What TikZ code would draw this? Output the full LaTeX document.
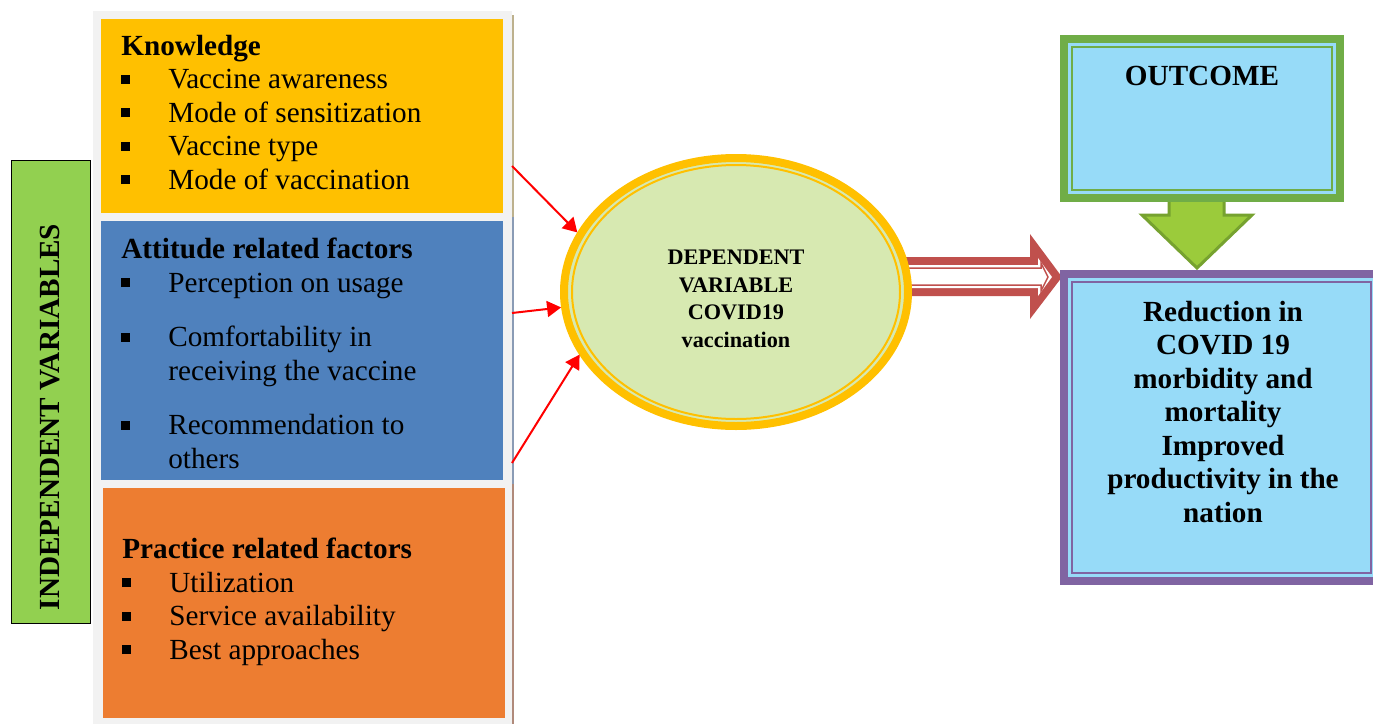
\documentclass[tikz,border=0pt]{standalone}
\usepackage{fontspec}
\setmainfont{Liberation Serif}
\usepackage{tikz}
\usetikzlibrary{shapes.geometric,arrows.meta,positioning,calc}

\definecolor{knowyellow}{HTML}{FFC000}
\definecolor{attblue}{HTML}{4F81BD}
\definecolor{pracorange}{HTML}{ED7D31}
\definecolor{indepgreen}{HTML}{92D050}
\definecolor{panelgray}{HTML}{F2F2F2}
\definecolor{depfill}{HTML}{D7E9B1}
\definecolor{blockred}{HTML}{C0504D}
\definecolor{skyblue}{HTML}{97DBF8}
\definecolor{outgreen}{HTML}{70AD47}
\definecolor{redpurple}{HTML}{8064A2}
\definecolor{arrowgreen}{HTML}{9BCB3B}
\definecolor{arrowgreendark}{HTML}{76A22F}
\definecolor{edgetan}{HTML}{BDB18D}
\definecolor{edgeblue}{HTML}{8A9BB5}
\definecolor{edgebrown}{HTML}{B08A7A}

\newcommand{\bul}{\makebox[23.5pt][l]{\rule[2.5pt]{4.5pt}{4.5pt}}}

\tikzset{
  fillbox/.style={rectangle, inner sep=0pt, outer sep=0pt, anchor=north west},
  boxtext/.style={anchor=base west, align=left, inner sep=0pt,
    font=\fontsize{14.6}{16.75}\selectfont},
  boldtext/.style={align=center, inner sep=0pt,
    font=\fontsize{14.6}{16.75}\selectfont\bfseries},
  redarrow/.style={draw=red, line width=1pt, shorten >=2pt,
    -{Triangle[length=7pt,width=8pt]}},
}

\begin{document}
\begin{tikzpicture}[x=0.5pt, y=-0.5pt]
  \clip (0,0) rectangle (1373,724);
  \fill[white] (0,0) rectangle (1373,724);

  % left panel with the three factor boxes
  \node[fillbox, fill=panelgray, minimum width=209.5pt, minimum height=356.5pt] (panel) at (93,11) {};
  \draw[edgetan, line width=1pt] (513,15) -- (513,217);
  \draw[edgeblue, line width=1pt] (513,217) -- (513,484);
  \draw[edgebrown, line width=1pt] (513,484) -- (513,724);

  \node[fillbox, fill=knowyellow, minimum width=201pt, minimum height=97pt] (know) at (101,19) {};
  \node[fillbox, fill=attblue, minimum width=201pt, minimum height=129.5pt] (att) at (101,221) {};
  \node[fillbox, fill=pracorange, minimum width=201pt, minimum height=115pt] (prac) at (103,488) {};

  % base of a multi-line node = its last line
  \node[boxtext] (knowtxt) at (121,189) {\textbf{Knowledge}\\
    \bul Vaccine awareness\\ \bul Mode of sensitization\\
    \bul Vaccine type\\ \bul Mode of vaccination};
  \node[boxtext] (atttxt) at (121,468) {\textbf{Attitude related factors}\\
    \bul Perception on usage\\[10.5pt]
    \bul Comfortability in\\ \hspace*{23.5pt}receiving the vaccine\\[10.5pt]
    \bul Recommendation to\\ \hspace*{23.5pt}others};
  \node[boxtext] (practxt) at (122,659) {\textbf{Practice related factors}\\
    \bul Utilization\\ \bul Service availability\\ \bul Best approaches};

  \node[fillbox, fill=indepgreen, draw=black, line width=0.5pt, minimum width=39.5pt, minimum height=231.5pt] (indep) at (11,160) {};
  \node[boldtext, rotate=90] (indeptxt) at (50,417) {INDEPENDENT VARIABLES};

  % block arrows
  \fill[blockred] (900,257) -- (1030,257) -- (1030,234) -- (1062,277) -- (1030,319) -- (1030,296) -- (900,296) -- cycle;
  \fill[white] (900,265) -- (1038,265) -- (1038,258) -- (1052,277) -- (1038,296) -- (1038,288) -- (900,288) -- cycle;
  \draw[blockred, line width=0.75pt] (900,268) -- (1041,268) -- (1041,263) -- (1048,277) -- (1041,291) -- (1041,285) -- (900,285);

  \filldraw[fill=arrowgreen, draw=arrowgreendark, line width=1.5pt] (1169,198) -- (1224,198) -- (1224,215) -- (1252,215) -- (1197,268) -- (1142,215) -- (1169,215) -- cycle;

  % dependent variable
  \node[ellipse, draw=knowyellow, line width=4pt, fill=depfill, minimum width=172pt, minimum height=134pt, inner sep=0pt, outer sep=0pt] (dep) at (736,292) {};
  \draw[knowyellow, line width=1pt] (dep.center) ellipse [x radius=82pt, y radius=63.5pt];
  \node[align=center, inner sep=0pt, font=\fontsize{11.1}{13.75}\selectfont\bfseries] (deptxt) at (736,299) {DEPENDENT\\VARIABLE\\COVID19\\vaccination};

  \coordinate (kfrom) at (512,166);
  \coordinate (afrom) at (512,313);
  \coordinate (pfrom) at (512,463);
  \draw[redarrow] (kfrom) -- (dep.160);
  \draw[redarrow] (afrom) -- (dep.185);
  \draw[redarrow] (pfrom) -- (dep.201);

  % outcome
  \node[fillbox, fill=skyblue, draw=outgreen, line width=4pt, minimum width=138pt, minimum height=79.5pt] (outc) at (1064,39) {};
  \draw[outgreen, line width=1pt] ([shift={(7.7,7.7)}]outc.north west) rectangle ([shift={(-7.7,-7.7)}]outc.south east);
  \node[boldtext, anchor=base] (outctxt) at (1202,85) {OUTCOME};

  \node[fillbox, fill=skyblue, draw=redpurple, line width=4pt, minimum width=157.5pt, minimum height=153.5pt] (redu) at (1064,274) {};
  \draw[redpurple, line width=1pt] ([shift={(7.7,7.7)}]redu.north west) rectangle ([shift={(-7.7,-7.7)}]redu.south east);
  \node[boldtext, anchor=base] (redutxt) at (1223,522) {Reduction in\\COVID 19\\morbidity and\\mortality\\Improved\\productivity in the\\nation};
\end{tikzpicture}
\end{document}
